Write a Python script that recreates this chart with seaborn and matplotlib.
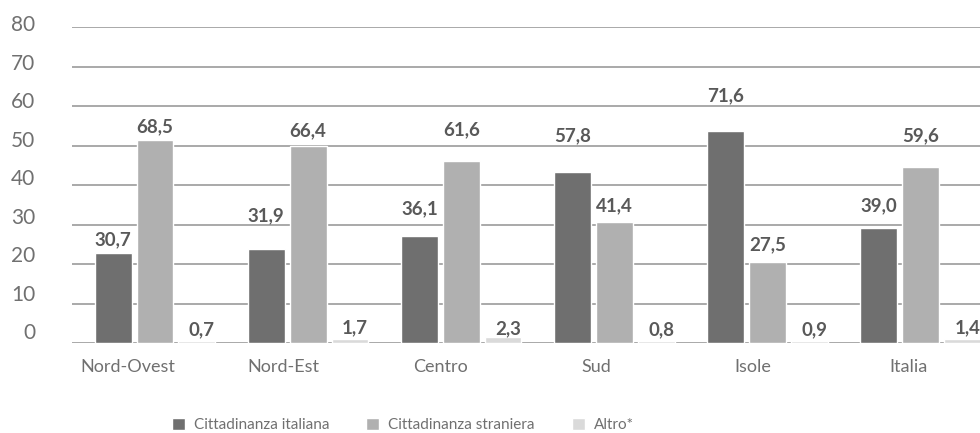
import numpy as np
import pandas as pd
import matplotlib
matplotlib.use("Agg")
import matplotlib.pyplot as plt
import matplotlib.transforms as mtransforms
import seaborn as sns

# categories and series
regions = ["Nord-Ovest", "Nord-Est", "Centro", "Sud", "Isole", "Italia"]
series = ["Cittadinanza italiana", "Cittadinanza straniera", "Altro*"]

# values printed above the bars
italiana = [30.7, 31.9, 36.1, 57.8, 71.6, 39.0]
straniera = [68.5, 66.4, 61.6, 41.4, 27.5, 59.6]
altro = [0.7, 1.7, 2.3, 0.8, 0.9, 1.4]

# bar heights as they sit on the 0-80 axis of the original
italiana_h = [22.9, 23.9, 27.2, 43.3, 53.7, 29.2]
straniera_h = [51.5, 49.9, 46.2, 30.8, 20.7, 44.6]
altro_h = [0.5, 1.2, 1.7, 0.5, 0.6, 1.0]

y_ticks = [0, 10, 20, 30, 40, 50, 60, 70, 80]

# layout: how far (px) each value label sits above its bar
lift_px = [
    [7.7, 27.3, 22, 31, 30, 17],
    [7.3, 10, 26, 10.7, 11.7, 25.6],
    [6, 5, 2, 6, 6, 5.7],
]

colors = ["#6f6f6f", "#b0b0b0", "#dadada"]
text_col = "#595959"
light_col = "#707070"
grid_col = "#a3a3a3"

df = pd.DataFrame({
    "region": regions * 3,
    "series": [s for s in series for _ in regions],
    "height": italiana_h + straniera_h + altro_h,
})
labels = [italiana, straniera, altro]

sns.set_style("white")
plt.rcParams["font.family"] = ["Lato", "DejaVu Sans"]

fig = plt.figure(figsize=(9.8, 4.33), dpi=100)
ax = fig.add_axes([0.0732, 0.2072, 0.9268, 0.7298])

sns.barplot(data=df, x="region", y="height", hue="series",
            order=regions, hue_order=series, palette=colors,
            width=0.82, gap=0.12, errorbar=None, legend=False,
            saturation=1, ax=ax, zorder=3)

ax.set_xlim(-0.544, 5.389)
ax.set_ylim(0, 80)
ax.set_yticks(y_ticks)
ax.yaxis.grid(True, color=grid_col, linewidth=1.3, zorder=0)
ax.set_axisbelow(True)
for sp in ax.spines.values():
    sp.set_visible(False)
ax.tick_params(axis="y", length=0, labelleft=False)
ax.set_xlabel("")
ax.set_ylabel("")

# category labels, spaced a bit wider than the bar groups as in the original
ax.set_xticks(np.arange(len(regions)) * 1.021 - 0.18)
ax.set_xticklabels(regions, fontsize=13, color=light_col)
ax.tick_params(axis="x", length=0, pad=11)

# y labels sit slightly above their gridlines
for v in y_ticks:
    up = (2.3 + (80 - v) / 80 * 7.7) / 100
    tr = ax.get_yaxis_transform() + mtransforms.ScaledTranslation(0, up, fig.dpi_scale_trans)
    ax.text(-0.0404, v, str(v), transform=tr, ha="right", va="center",
            fontsize=15, color=light_col)

for k, cont in enumerate(ax.containers):
    for i, bar in enumerate(cont):
        txt = f"{labels[k][i]:.1f}".replace(".", ",")
        dx = 5 if k == 2 else 0
        ax.annotate(txt, (bar.get_x() + bar.get_width() / 2, bar.get_height()),
                    xytext=(dx, lift_px[k][i]), textcoords="offset pixels",
                    ha="center", va="baseline", fontsize=13.5,
                    fontweight="bold", color=text_col, annotation_clip=False)

fig.legend(ax.containers, series, loc="center left",
           bbox_to_anchor=(172 / 980, 1 - 425 / 433), ncol=3, frameon=False,
           fontsize=11, handlelength=0.85, handleheight=0.85,
           handletextpad=0.6, columnspacing=2.4, borderpad=0,
           borderaxespad=0, labelcolor=light_col)

fig.savefig("out.png", dpi=100)
